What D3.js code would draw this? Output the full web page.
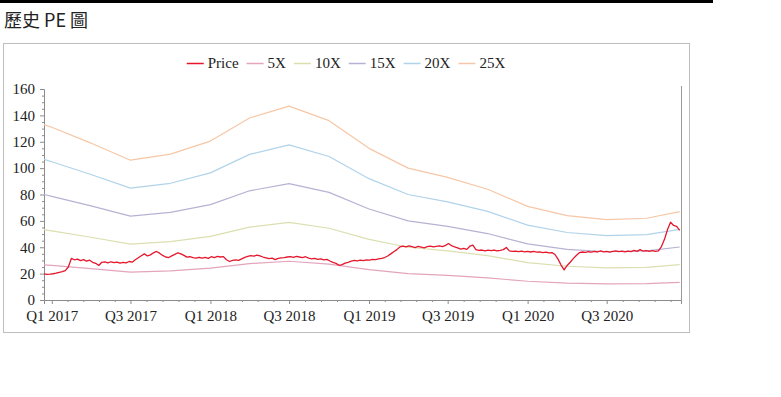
<!DOCTYPE html>
<html>
<head>
<meta charset="utf-8">
<script src="https://cdn.jsdelivr.net/npm/d3@7"></script>
<style>
  body { margin: 0; background: #fff; }
</style>
</head>
<body>
<div id="chart"></div>
<script>
// Weekly closing price, first week 2016-12-14
const priceStart = "2016-12-14";
const priceValues = [
  19.8, 19.5, 19.6, 19.9, 20.3, 21.0, 21.5, 22.3, 25.0, 31.5,
  30.5, 31.0, 29.8, 30.6, 29.5, 30.2, 28.6, 27.8, 26.2, 28.6,
  28.9, 28.2, 29.0, 28.4, 28.8, 27.9, 28.5, 28.1, 29.2, 28.7,
  30.5, 32.0, 33.5, 35.0, 33.4, 34.2, 35.8, 36.8, 35.5, 33.8,
  32.6, 32.2, 33.5, 34.6, 35.8, 35.0, 33.8, 32.5, 32.8, 32.2,
  31.8, 32.4, 31.7, 32.3, 31.6, 32.8, 32.2, 33.0, 32.6, 32.9,
  30.5, 29.2, 30.0, 30.4, 30.1, 31.2, 32.3, 33.0, 33.6, 33.2,
  34.0, 33.4, 32.6, 32.0, 31.4, 31.8, 30.6, 31.5, 31.9, 32.2,
  32.6, 32.9, 32.4, 33.1, 32.6, 32.2, 32.8, 31.8, 31.2, 31.6,
  30.8, 31.2, 30.4, 30.8, 29.6, 28.5, 27.8, 26.3, 26.8, 27.9,
  28.6, 29.4, 30.0, 29.7, 30.3, 29.9, 30.5, 30.2, 30.8, 30.6,
  31.2, 31.5, 32.2, 33.4, 35.0, 36.6, 38.2, 40.2, 40.8, 40.3,
  41.0, 40.4, 39.8, 40.6, 40.1, 39.6, 40.4, 40.9, 40.3, 40.7,
  41.1, 40.5, 41.4, 42.8, 41.2, 40.2, 39.5, 38.6, 39.2, 38.4,
  40.8, 41.6, 38.2, 37.6, 37.9, 37.3, 37.8, 37.4, 37.9, 37.2,
  37.6, 38.2, 39.8, 37.2, 36.8, 37.1, 36.6, 37.0, 36.5, 36.9,
  36.4, 36.8, 36.3, 36.5, 36.0, 36.3, 35.7, 35.9, 34.5, 31.0,
  26.5, 22.8, 26.2, 28.6, 31.4, 33.8, 35.9, 36.4, 36.1, 36.6,
  36.3, 36.8, 36.4, 37.2, 36.5, 36.9, 36.3, 36.8, 37.3, 36.6,
  37.0, 36.5, 37.1, 36.7, 37.6, 36.9, 38.2, 37.0, 37.5, 36.8,
  37.4, 36.9, 37.2, 40.5, 46.0, 53.5, 59.0, 56.5, 55.8, 52.8
];

// PE band knots (quarterly)
const bandDates = [
  "2016-12-14", "2017-01-01", "2017-04-01", "2017-07-01", "2017-10-01",
  "2018-01-01", "2018-04-01", "2018-07-01", "2018-10-01", "2019-01-01",
  "2019-04-01", "2019-07-01", "2019-10-01", "2020-01-01", "2020-04-01",
  "2020-07-01", "2020-10-01", "2020-12-16"
];
const band5X  = [26.7, 26.2, 23.8, 21.2, 22.1, 24.1, 27.6, 29.4, 27.2, 23.0, 20.0, 18.6, 16.8, 14.2, 12.8, 12.2, 12.4, 13.4];
const band10X = [53.3, 52.4, 47.6, 42.4, 44.2, 48.2, 55.2, 58.8, 54.4, 46.0, 40.0, 37.2, 33.6, 28.4, 25.6, 24.4, 24.8, 26.8];
const band15X = [80.0, 78.6, 71.4, 63.6, 66.4, 72.3, 82.8, 88.2, 81.6, 69.0, 60.0, 55.8, 50.4, 42.6, 38.4, 36.6, 37.2, 40.2];
const band20X = [106.6, 104.8, 95.2, 84.8, 88.5, 96.4, 110.4, 117.6, 108.8, 92.0, 80.0, 74.4, 67.2, 56.8, 51.2, 48.8, 49.6, 53.6];
const band25X = [133.0, 131.0, 119.0, 106.0, 110.6, 120.5, 138.0, 147.0, 136.0, 115.0, 100.0, 93.0, 84.0, 71.0, 64.0, 61.0, 62.0, 67.0];

const seriesNames = ["Price", "5X", "10X", "15X", "20X", "25X"];
const seriesColors = ["#e4172d", "#e3a4bc", "#dcdfb0", "#b7b2d3", "#b0d3ea", "#f6c7a6"];

const xTickDates = ["2017-01-01", "2017-07-01", "2018-01-01", "2018-07-01", "2019-01-01", "2019-07-01", "2020-01-01", "2020-07-01"];
const xTickLabels = ["Q1 2017", "Q3 2017", "Q1 2018", "Q3 2018", "Q1 2019", "Q3 2019", "Q1 2020", "Q3 2020"];
const yTicks = [0, 20, 40, 60, 80, 100, 120, 140, 160];

const parse = d3.timeParse("%Y-%m-%d");

const W = 781, H = 397;
const plot = { left: 44, right: 681, top: 89, bottom: 300 };

const svg = d3.select("#chart").append("svg")
  .attr("width", W)
  .attr("height", H);

// top black bar + title
svg.append("rect").attr("x", 0).attr("y", 0).attr("width", 713).attr("height", 3).attr("fill", "#000");
svg.append("text")
  .attr("x", 4).attr("y", 27)
  .attr("font-family", "'Noto Sans CJK TC', 'Noto Sans', sans-serif")
  .attr("font-size", "18px")
  .attr("fill", "#222")
  .text("歷史 PE 圖");

// chart box
svg.append("rect")
  .attr("x", 3.5).attr("y", 43.5)
  .attr("width", 686).attr("height", 289)
  .attr("fill", "#fff")
  .attr("stroke", "#bdbdbd");

const x = d3.scaleTime()
  .domain([parse("2016-12-14"), parse("2020-12-19")])
  .range([plot.left, plot.right]);
const y = d3.scaleLinear().domain([0, 160]).range([plot.bottom, plot.top]);

const serif = "'Liberation Serif', 'Times New Roman', serif";

// y axis
const yAxis = svg.append("g")
  .attr("transform", `translate(${plot.left},0)`)
  .call(d3.axisLeft(y).tickValues(yTicks).tickSize(4).tickPadding(5));
yAxis.select(".domain").attr("stroke", "#8c8c8c");
yAxis.selectAll(".tick line").attr("stroke", "#8c8c8c");
yAxis.selectAll(".tick text")
  .attr("font-family", serif).attr("font-size", "15px").attr("fill", "#222");
yAxis.selectAll(".minor")
  .data(d3.range(0, 161, 5).filter(v => v % 20 !== 0))
  .enter().append("line")
  .attr("x1", -2).attr("x2", 0)
  .attr("y1", d => y(d) + 0.5).attr("y2", d => y(d) + 0.5)
  .attr("stroke", "#8c8c8c");

// x axis
const xTicks = xTickDates.map(parse);
const xAxis = svg.append("g")
  .attr("transform", `translate(0,${plot.bottom})`)
  .call(d3.axisBottom(x).tickValues(xTicks).tickSize(4).tickPadding(6)
    .tickFormat((d, i) => xTickLabels[i]));
xAxis.select(".domain").attr("stroke", "#8c8c8c");
xAxis.selectAll(".tick line").attr("stroke", "#8c8c8c");
xAxis.selectAll(".tick text")
  .attr("font-family", serif).attr("font-size", "15px").attr("fill", "#222");

// minor x ticks: five per half year
const minorX = [];
for (let i = 0; i < xTicks.length; i++) {
  const a = xTicks[i];
  const b = d3.timeMonth.offset(a, 6);
  for (let k = 1; k < 5; k++) {
    const t = new Date(+a + (b - a) * k / 5);
    if (x(t) < plot.right) minorX.push(t);
  }
}
xAxis.selectAll(".minor")
  .data(minorX)
  .enter().append("line")
  .attr("x1", d => x(d) + 0.5).attr("x2", d => x(d) + 0.5)
  .attr("y1", 0).attr("y2", 2)
  .attr("stroke", "#8c8c8c");

// right frame line
svg.append("line")
  .attr("x1", plot.right + 0.5).attr("x2", plot.right + 0.5)
  .attr("y1", plot.top - 3).attr("y2", plot.bottom + 0.5)
  .attr("stroke", "#9a9a9a");

// PE bands
const bands = [band5X, band10X, band15X, band20X, band25X];
const bandLine = d3.line()
  .x(d => x(d.date))
  .y(d => y(d.value));

bands.forEach((vals, i) => {
  const data = vals.map((v, j) => ({ date: parse(bandDates[j]), value: v }));
  svg.append("path")
    .datum(data)
    .attr("fill", "none")
    .attr("stroke", seriesColors[i + 1])
    .attr("stroke-width", 1.2)
    .attr("stroke-linejoin", "round")
    .attr("d", bandLine);
});

// price line
const start = parse(priceStart);
const priceData = priceValues.map((v, i) => ({ date: d3.timeDay.offset(start, i * 7), value: v }));
svg.append("path")
  .datum(priceData)
  .attr("fill", "none")
  .attr("stroke", seriesColors[0])
  .attr("stroke-width", 1.3)
  .attr("stroke-linejoin", "round")
  .attr("d", d3.line().x(d => x(d.date)).y(d => y(d.value)));

// legend
const legend = svg.append("g");
let lx = 0;
seriesNames.forEach((name, i) => {
  const g = legend.append("g");
  g.append("line")
    .attr("x1", 0).attr("x2", 17)
    .attr("y1", 0.5).attr("y2", 0.5)
    .attr("stroke", seriesColors[i])
    .attr("stroke-width", 1.5);
  const t = g.append("text")
    .attr("x", 21).attr("y", 5)
    .attr("font-family", serif)
    .attr("font-size", "15px")
    .attr("fill", "#222")
    .text(name);
  const w = 21 + t.node().getComputedTextLength();
  g.attr("transform", `translate(${lx},0)`);
  lx += w + 8;
});
const totalW = lx - 8;
legend.attr("transform", `translate(${346 - totalW / 2},63)`);
</script>
</body>
</html>
